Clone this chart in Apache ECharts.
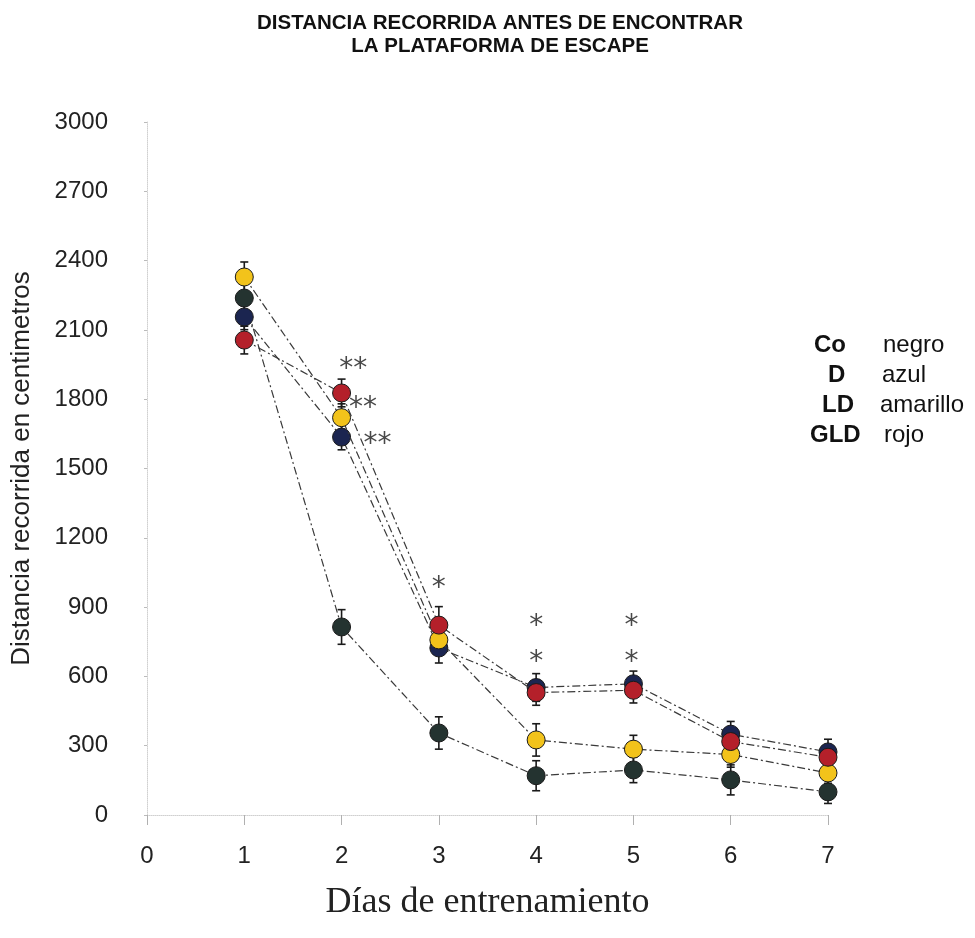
<!DOCTYPE html>
<html>
<head>
<meta charset="utf-8">
<script src="https://cdn.jsdelivr.net/npm/echarts@6/dist/echarts.min.js"></script>
<style>html,body{margin:0;padding:0;background:#fff}#c{width:975px;height:938px}</style>
</head>
<body>
<div id="c"></div>
<script>
var days = [1, 2, 3, 4, 5, 6, 7];
var xTicks = [0, 1, 2, 3, 4, 5, 6, 7];
var yTicks = [0, 300, 600, 900, 1200, 1500, 1800, 2100, 2400, 2700, 3000];
var seriesNames = ['Co', 'D', 'LD', 'GLD'];
var Co  = [2238, 814, 355, 170, 195, 152, 100];
var D   = [2156, 1636, 723, 552, 568, 350, 273];
var LD  = [2329, 1720, 758, 325, 285, 262, 182];
var GLD = [2056, 1827, 822, 530, 540, 318, 250];
var errCo  = [60, 75, 70, 65, 55, 65, 50];
var errD   = [55, 55, 65, 60, 55, 55, 55];
var errLD  = [65, 60, 60, 70, 60, 55, 45];
var errGLD = [60, 60, 80, 55, 55, 60, 55];
var starX = [2.12, 2.22, 2.37, 3.0, 4.0, 4.0, 4.98, 4.98];
var starY = [1960, 1790, 1632, 1010, 845, 690, 845, 690];
var starText = ['**', '**', '**', '*', '*', '*', '*', '*'];
var titleLines = ['DISTANCIA RECORRIDA ANTES DE ENCONTRAR', 'LA PLATAFORMA DE ESCAPE'];
var legendAbbr = ['Co', 'D', 'LD', 'GLD'];
var legendColorNames = ['negro', 'azul', 'amarillo', 'rojo'];

var colors = ['#243330', '#1b2550', '#f2c31b', '#b4202a'];
var values = [Co, D, LD, GLD];
var errs = [errCo, errD, errLD, errGLD];

var chart = echarts.init(document.getElementById('c'));
var series = [];
values.forEach(function (vals, i) {
  series.push({
    name: seriesNames[i],
    type: 'line',
    data: days.map(function (d, k) { return [d, vals[k]]; }),
    symbol: 'circle',
    symbolSize: 18,
    itemStyle: { color: colors[i], borderColor: '#1a1a1a', borderWidth: 1 },
    lineStyle: { color: '#3a3a3a', width: 1.2, type: [8, 3, 2, 3] },
    z: 3 + i
  });
  series.push({
    type: 'custom',
    z: 2,
    silent: true,
    data: days.map(function (d, k) { return [d, vals[k], errs[i][k]]; }),
    renderItem: function (params, api) {
      var x = api.value(0), y = api.value(1), e = api.value(2);
      var top = api.coord([x, y + e]);
      var bot = api.coord([x, y - e]);
      var w = 4;
      var st = { stroke: '#1a1a1a', lineWidth: 1.6 };
      return { type: 'group', children: [
        { type: 'line', shape: { x1: top[0], y1: top[1], x2: bot[0], y2: bot[1] }, style: st },
        { type: 'line', shape: { x1: top[0] - w, y1: top[1], x2: top[0] + w, y2: top[1] }, style: st },
        { type: 'line', shape: { x1: bot[0] - w, y1: bot[1], x2: bot[0] + w, y2: bot[1] }, style: st }
      ]};
    }
  });
});
series.push({
  type: 'scatter',
  symbolSize: 1,
  itemStyle: { color: 'rgba(0,0,0,0)' },
  data: starX.map(function (x, k) { return [x, starY[k], starText[k]]; }),
  label: {
    show: true, position: 'inside',
    formatter: function (p) { return p.value[2]; },
    fontFamily: 'DejaVu Sans', fontSize: 28, color: '#1a1a1a', offset: [0, 7]
  },
  z: 10
});

var graphics = [];
titleLines.forEach(function (t, k) {
  graphics.push({ type: 'text', x: 500, y: 23 + k * 23,
    style: { text: t, textAlign: 'center', textVerticalAlign: 'middle', font: 'bold 20.5px "Liberation Sans", Arial', fill: '#111' } });
});
var legY = [345, 375, 405, 435];
var abbrX = [814, 828, 822, 810];
var nameX = [883, 882, 880, 884];
legendAbbr.forEach(function (t, k) {
  graphics.push({ type: 'text', x: abbrX[k], y: legY[k], style: { text: t, textVerticalAlign: 'middle', font: 'bold 24px "Liberation Sans", Arial', fill: '#111' } });
  graphics.push({ type: 'text', x: nameX[k], y: legY[k], style: { text: legendColorNames[k], textVerticalAlign: 'middle', font: '24px "Liberation Sans", Arial', fill: '#111' } });
});

chart.setOption({
  backgroundColor: '#fff',
  animation: false,
  grid: { left: 147, top: 122, width: 681, height: 693 },
  xAxis: {
    type: 'value', min: 0, max: 7, interval: 1,
    name: 'Días de entrenamiento', nameLocation: 'middle', nameGap: 70,
    nameTextStyle: { fontFamily: 'Liberation Serif', fontSize: 36, color: '#222' },
    axisLine: { show: true, lineStyle: { color: '#d0d0d0', type: 'dotted', width: 1 } },
    axisTick: { show: true, length: 10, lineStyle: { color: '#b0b0b0' } },
    splitLine: { show: false },
    axisLabel: { margin: 29, fontFamily: 'Liberation Sans', fontSize: 24, color: '#222',
      formatter: function (v) { return xTicks.indexOf(v) >= 0 ? String(v) : ''; } }
  },
  yAxis: {
    type: 'value', min: 0, max: 3000, interval: 300,
    name: 'Distancia recorrida en centimetros', nameLocation: 'middle', nameGap: 112,
    nameTextStyle: { fontFamily: 'Liberation Sans', fontSize: 26, color: '#222' },
    axisLine: { show: true, lineStyle: { color: '#d0d0d0', type: 'dotted', width: 1 } },
    axisTick: { show: true, length: 3, lineStyle: { color: '#bbb' } },
    splitLine: { show: false },
    axisLabel: { margin: 39, fontFamily: 'Liberation Sans', fontSize: 24, color: '#222',
      formatter: function (v) { return yTicks.indexOf(v) >= 0 ? String(v) : ''; } }
  },
  graphic: graphics,
  series: series
});
</script>
</body>
</html>
